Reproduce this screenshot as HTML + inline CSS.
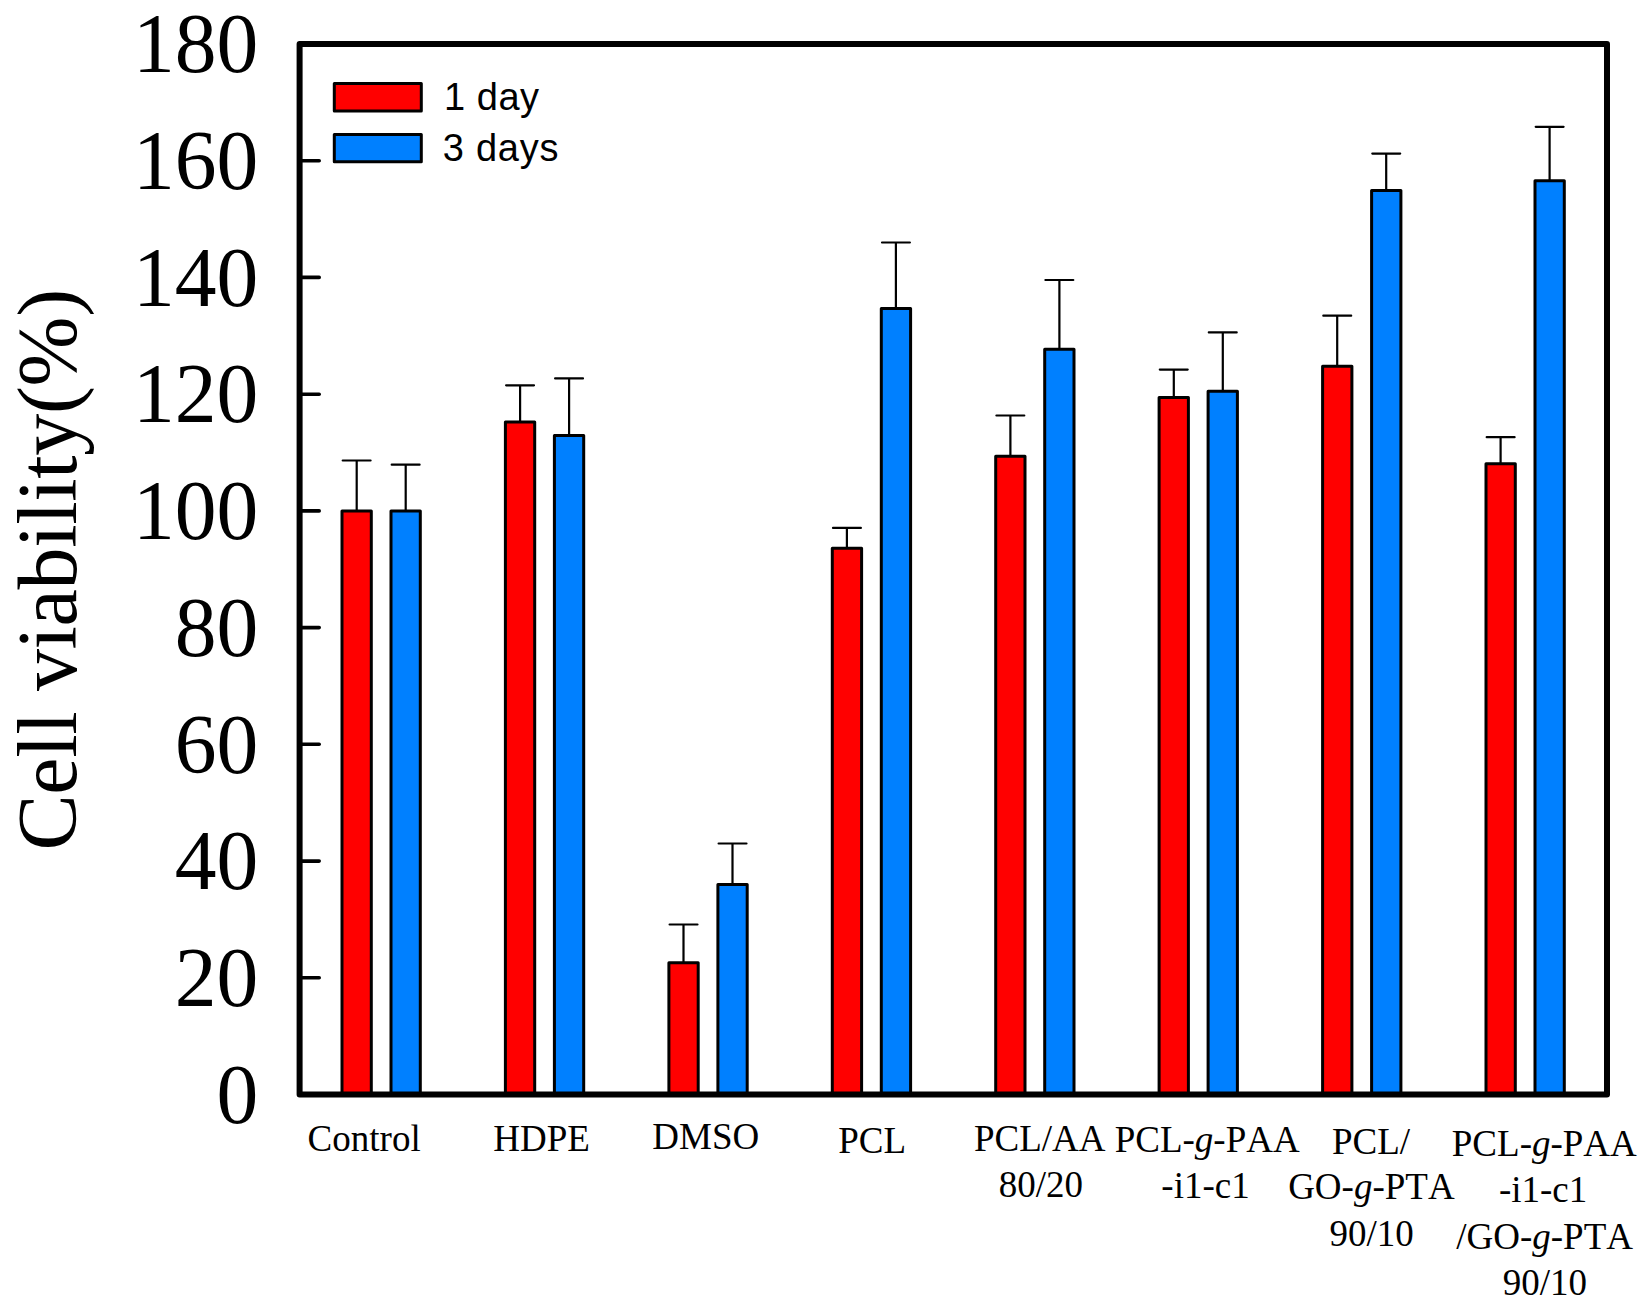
<!DOCTYPE html>
<html><head><meta charset="utf-8"><title>Cell viability</title>
<style>html,body{margin:0;padding:0;background:#fff}svg{display:block}text{fill:#000;font-kerning:none}
.s{font-family:"Liberation Serif","Times New Roman",serif}
.a{font-family:"Liberation Sans",Arial,sans-serif}
</style></head><body>
<svg width="1650" height="1313" viewBox="0 0 1650 1313">
<rect width="1650" height="1313" fill="#fff"/>
<path d="M356.7 511.0V460.5M342.7 460.5H370.6" stroke="#000" stroke-width="2.2" stroke-linecap="round" fill="none"/>
<rect x="342.0" y="511.0" width="29.3" height="583.5" fill="#ff0000" stroke="#000" stroke-width="3" stroke-linejoin="round"/>
<path d="M405.7 511.0V464.7M391.7 464.7H419.6" stroke="#000" stroke-width="2.2" stroke-linecap="round" fill="none"/>
<rect x="391.0" y="511.0" width="29.3" height="583.5" fill="#0080ff" stroke="#000" stroke-width="3" stroke-linejoin="round"/>
<path d="M520.1 422.0V385.3M506.1 385.3H534.0" stroke="#000" stroke-width="2.2" stroke-linecap="round" fill="none"/>
<rect x="505.4" y="422.0" width="29.3" height="672.5" fill="#ff0000" stroke="#000" stroke-width="3" stroke-linejoin="round"/>
<path d="M569.1 435.5V378.4M555.1 378.4H583.0" stroke="#000" stroke-width="2.2" stroke-linecap="round" fill="none"/>
<rect x="554.4" y="435.5" width="29.3" height="659.0" fill="#0080ff" stroke="#000" stroke-width="3" stroke-linejoin="round"/>
<path d="M683.5 962.8V924.5M669.6 924.5H697.5" stroke="#000" stroke-width="2.2" stroke-linecap="round" fill="none"/>
<rect x="668.9" y="962.8" width="29.3" height="131.7" fill="#ff0000" stroke="#000" stroke-width="3" stroke-linejoin="round"/>
<path d="M732.5 884.5V843.5M718.6 843.5H746.5" stroke="#000" stroke-width="2.2" stroke-linecap="round" fill="none"/>
<rect x="717.9" y="884.5" width="29.3" height="210.0" fill="#0080ff" stroke="#000" stroke-width="3" stroke-linejoin="round"/>
<path d="M846.9 548.3V527.9M833.0 527.9H860.9" stroke="#000" stroke-width="2.2" stroke-linecap="round" fill="none"/>
<rect x="832.3" y="548.3" width="29.3" height="546.2" fill="#ff0000" stroke="#000" stroke-width="3" stroke-linejoin="round"/>
<path d="M895.9 308.4V242.5M882.0 242.5H909.9" stroke="#000" stroke-width="2.2" stroke-linecap="round" fill="none"/>
<rect x="881.3" y="308.4" width="29.3" height="786.1" fill="#0080ff" stroke="#000" stroke-width="3" stroke-linejoin="round"/>
<path d="M1010.4 456.2V415.5M996.4 415.5H1024.3" stroke="#000" stroke-width="2.2" stroke-linecap="round" fill="none"/>
<rect x="995.7" y="456.2" width="29.3" height="638.3" fill="#ff0000" stroke="#000" stroke-width="3" stroke-linejoin="round"/>
<path d="M1059.4 349.3V280.0M1045.4 280.0H1073.3" stroke="#000" stroke-width="2.2" stroke-linecap="round" fill="none"/>
<rect x="1044.7" y="349.3" width="29.3" height="745.2" fill="#0080ff" stroke="#000" stroke-width="3" stroke-linejoin="round"/>
<path d="M1173.8 397.5V369.6M1159.8 369.6H1187.7" stroke="#000" stroke-width="2.2" stroke-linecap="round" fill="none"/>
<rect x="1159.1" y="397.5" width="29.3" height="697.0" fill="#ff0000" stroke="#000" stroke-width="3" stroke-linejoin="round"/>
<path d="M1222.8 391.2V332.4M1208.8 332.4H1236.7" stroke="#000" stroke-width="2.2" stroke-linecap="round" fill="none"/>
<rect x="1208.1" y="391.2" width="29.3" height="703.3" fill="#0080ff" stroke="#000" stroke-width="3" stroke-linejoin="round"/>
<path d="M1337.2 366.2V315.7M1323.3 315.7H1351.2" stroke="#000" stroke-width="2.2" stroke-linecap="round" fill="none"/>
<rect x="1322.6" y="366.2" width="29.3" height="728.3" fill="#ff0000" stroke="#000" stroke-width="3" stroke-linejoin="round"/>
<path d="M1386.2 190.4V153.6M1372.3 153.6H1400.2" stroke="#000" stroke-width="2.2" stroke-linecap="round" fill="none"/>
<rect x="1371.6" y="190.4" width="29.3" height="904.1" fill="#0080ff" stroke="#000" stroke-width="3" stroke-linejoin="round"/>
<path d="M1500.6 463.7V437.2M1486.7 437.2H1514.6" stroke="#000" stroke-width="2.2" stroke-linecap="round" fill="none"/>
<rect x="1486.0" y="463.7" width="29.3" height="630.8" fill="#ff0000" stroke="#000" stroke-width="3" stroke-linejoin="round"/>
<path d="M1549.6 180.7V126.8M1535.7 126.8H1563.6" stroke="#000" stroke-width="2.2" stroke-linecap="round" fill="none"/>
<rect x="1535.0" y="180.7" width="29.3" height="913.8" fill="#0080ff" stroke="#000" stroke-width="3" stroke-linejoin="round"/>
<path d="M299.6 977.8H319.2" stroke="#000" stroke-width="3.6" stroke-linecap="round"/>
<path d="M299.6 861.1H319.2" stroke="#000" stroke-width="3.6" stroke-linecap="round"/>
<path d="M299.6 744.3H319.2" stroke="#000" stroke-width="3.6" stroke-linecap="round"/>
<path d="M299.6 627.6H319.2" stroke="#000" stroke-width="3.6" stroke-linecap="round"/>
<path d="M299.6 510.9H319.2" stroke="#000" stroke-width="3.6" stroke-linecap="round"/>
<path d="M299.6 394.2H319.2" stroke="#000" stroke-width="3.6" stroke-linecap="round"/>
<path d="M299.6 277.4H319.2" stroke="#000" stroke-width="3.6" stroke-linecap="round"/>
<path d="M299.6 160.7H319.2" stroke="#000" stroke-width="3.6" stroke-linecap="round"/>
<rect x="299.6" y="44.0" width="1307.4" height="1050.5" fill="none" stroke="#000" stroke-width="6" stroke-linejoin="round"/>
<rect x="334.3" y="83.4" width="87" height="27.5" fill="#ff0000" stroke="#000" stroke-width="3" stroke-linejoin="round"/>
<rect x="334.3" y="134.5" width="87" height="27.2" fill="#0080ff" stroke="#000" stroke-width="3" stroke-linejoin="round"/>
<text class="a" x="443.9" y="110" font-size="38" textLength="95.2" lengthAdjust="spacing">1 day</text>
<text class="a" x="442.8" y="161.3" font-size="38" textLength="115.6" lengthAdjust="spacing">3 days</text>
<text class="s" transform="translate(258.3 1122.7) scale(0.988 1)" font-size="84.6" text-anchor="end">0</text>
<text class="s" transform="translate(258.3 1006.0) scale(0.988 1)" font-size="84.6" text-anchor="end">20</text>
<text class="s" transform="translate(258.3 889.3) scale(0.988 1)" font-size="84.6" text-anchor="end">40</text>
<text class="s" transform="translate(258.3 772.5) scale(0.988 1)" font-size="84.6" text-anchor="end">60</text>
<text class="s" transform="translate(258.3 655.8) scale(0.988 1)" font-size="84.6" text-anchor="end">80</text>
<text class="s" transform="translate(258.3 539.1) scale(0.988 1)" font-size="84.6" text-anchor="end">100</text>
<text class="s" transform="translate(258.3 422.4) scale(0.988 1)" font-size="84.6" text-anchor="end">120</text>
<text class="s" transform="translate(258.3 305.6) scale(0.988 1)" font-size="84.6" text-anchor="end">140</text>
<text class="s" transform="translate(258.3 188.9) scale(0.988 1)" font-size="84.6" text-anchor="end">160</text>
<text class="s" transform="translate(258.3 72.2) scale(0.988 1)" font-size="84.6" text-anchor="end">180</text>
<text class="s" font-size="84" text-anchor="middle" textLength="561.7" lengthAdjust="spacing" transform="translate(75.7 569.6) rotate(-90)">Cell viability(%)</text>
<text class="s" x="364.15" y="1150.5" font-size="37" text-anchor="middle" >Control</text>
<text class="s" x="541.60" y="1150.5" font-size="37" text-anchor="middle" >HDPE</text>
<text class="s" x="705.75" y="1149.0" font-size="37" text-anchor="middle" >DMSO</text>
<text class="s" x="872.10" y="1152.5" font-size="37" text-anchor="middle" >PCL</text>
<text class="s" x="1039.70" y="1150.9" font-size="37" text-anchor="middle" >PCL/AA</text>
<text class="s" x="1040.95" y="1197.2" font-size="37" text-anchor="middle" >80/20</text>
<text class="s" x="1207.15" y="1152.0" font-size="37" text-anchor="middle" >PCL-<tspan font-style="italic">g</tspan>-PAA</text>
<text class="s" x="1205.50" y="1198.0" font-size="37" text-anchor="middle" >-i1-c1</text>
<text class="s" x="1371.00" y="1153.8" font-size="37" text-anchor="middle" >PCL/</text>
<text class="s" x="1371.40" y="1199.1" font-size="37" text-anchor="middle" >GO-<tspan font-style="italic">g</tspan>-PTA</text>
<text class="s" x="1371.65" y="1245.8" font-size="37" text-anchor="middle" >90/10</text>
<text class="s" x="1544.30" y="1156.0" font-size="37" text-anchor="middle" >PCL-<tspan font-style="italic">g</tspan>-PAA</text>
<text class="s" x="1543.10" y="1202.0" font-size="37" text-anchor="middle" >-i1-c1</text>
<text class="s" x="1544.65" y="1249.1" font-size="37" text-anchor="middle" >/GO-<tspan font-style="italic">g</tspan>-PTA</text>
<text class="s" x="1544.95" y="1294.7" font-size="37" text-anchor="middle" >90/10</text>
</svg></body></html>
